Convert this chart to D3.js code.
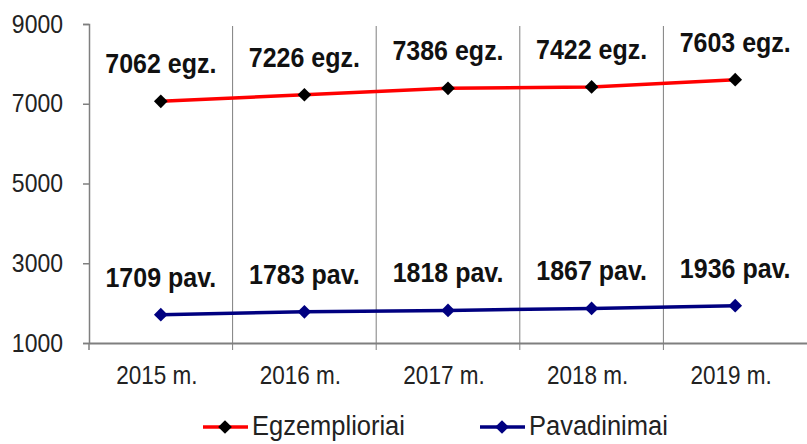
<!DOCTYPE html>
<html>
<head>
<meta charset="utf-8">
<script src="https://cdn.jsdelivr.net/npm/d3@7"></script>
<style>
  body { margin: 0; background: #fff; }
  text { font-family: "Liberation Sans", Arial, sans-serif; }
</style>
</head>
<body>
<div id="chart"></div>
<script>
var years = ["2015 m.", "2016 m.", "2017 m.", "2018 m.", "2019 m."];
var egzemplioriai = [7062, 7226, 7386, 7422, 7603];
var pavadinimai = [1709, 1783, 1818, 1867, 1936];
var yTicks = [1000, 3000, 5000, 7000, 9000];

var width = 807, height = 444;
var margin = {left: 89, right: 0, top: 24, bottom: 101};

var svg = d3.select("#chart").append("svg")
  .attr("width", width)
  .attr("height", height);

var x = d3.scaleBand()
  .domain(years)
  .range([margin.left, width - margin.right]);

var y = d3.scaleLinear()
  .domain([1000, 9000])
  .range([height - margin.bottom, margin.top]);

// vertical separators between categories
svg.append("g")
  .selectAll("line")
  .data(years.slice(1))
  .join("line")
  .attr("x1", function(d) { return x(d); })
  .attr("x2", function(d) { return x(d); })
  .attr("y1", y(9000) + 2)
  .attr("y2", y(1000) + 7)
  .attr("stroke", "#7f7f7f")
  .attr("stroke-width", 1);

// y axis
var yAxis = svg.append("g")
  .attr("transform", "translate(" + margin.left + ",0)")
  .call(d3.axisLeft(y).tickValues(yTicks).tickSize(6).tickPadding(20).tickFormat(d3.format("d")));
yAxis.select(".domain").attr("stroke", "#7f7f7f").attr("stroke-width", 1.5);
yAxis.selectAll(".tick line").attr("stroke", "#7f7f7f").attr("stroke-width", 1.5);
yAxis.selectAll(".tick text")
  .attr("font-size", 23)
  .attr("fill", "#222")
  .attr("dy", null)
  .attr("transform", "translate(0,8) scale(1,1.12)");

// x axis
var xAxis = svg.append("g")
  .attr("transform", "translate(0," + y(1000) + ")")
  .call(d3.axisBottom(x).tickSize(0).tickPadding(0));
xAxis.select(".domain").attr("stroke", "#7f7f7f").attr("stroke-width", 2);
xAxis.selectAll(".tick text")
  .attr("font-size", 22.5)
  .attr("fill", "#222")
  .attr("dy", null)
  .attr("y", 0)
  .attr("transform", "translate(-4,41) scale(1,1.16)");
// first tick at the left end
svg.append("line")
  .attr("x1", margin.left).attr("x2", margin.left)
  .attr("y1", y(1000)).attr("y2", y(1000) + 7)
  .attr("stroke", "#7f7f7f").attr("stroke-width", 1.5);

var cx = function(i) { return x(years[i]) + x.bandwidth() / 2; };
var diamond = d3.symbol().type(d3.symbolDiamond2).size(120);

var series = [
  {name: "Egzemplioriai", values: egzemplioriai, line: "#ff0000", marker: "#000000", unit: " egz."},
  {name: "Pavadinimai", values: pavadinimai, line: "#000080", marker: "#000080", unit: " pav."}
];

var line = d3.line()
  .x(function(d, i) { return cx(i); })
  .y(function(d) { return y(d); });

series.forEach(function(s) {
  svg.append("path")
    .datum(s.values)
    .attr("d", line)
    .attr("fill", "none")
    .attr("stroke", s.line)
    .attr("stroke-width", 3.5);

  svg.append("g")
    .selectAll("path")
    .data(s.values)
    .join("path")
    .attr("d", diamond)
    .attr("transform", function(d, i) { return "translate(" + cx(i) + "," + y(d) + ")"; })
    .attr("fill", s.marker);

  svg.append("g")
    .selectAll("text")
    .data(s.values)
    .join("text")
    .attr("text-anchor", "middle")
    .attr("font-size", 25)
    .attr("font-weight", "bold")
    .attr("fill", "#111")
    .attr("transform", function(d, i) { return "translate(" + cx(i) + "," + (y(d) - 28) + ") scale(1,1.12)"; })
    .text(function(d) { return d + s.unit; });
});

// legend
var legendX = [203, 480];
var legend = svg.append("g")
  .selectAll("g")
  .data(series)
  .join("g")
  .attr("transform", function(d, i) { return "translate(" + legendX[i] + ",427)"; });
legend.append("line")
  .attr("x1", 0).attr("x2", 45)
  .attr("stroke", function(d) { return d.line; })
  .attr("stroke-width", 3.5);
legend.append("path")
  .attr("d", diamond)
  .attr("transform", "translate(22,0)")
  .attr("fill", function(d) { return d.marker; });
legend.append("text")
  .attr("x", 49)
  .attr("font-size", 25.5)
  .attr("fill", "#222")
  .attr("transform", "translate(0,8) scale(1,1.05)")
  .text(function(d) { return d.name; });
</script>
</body>
</html>
